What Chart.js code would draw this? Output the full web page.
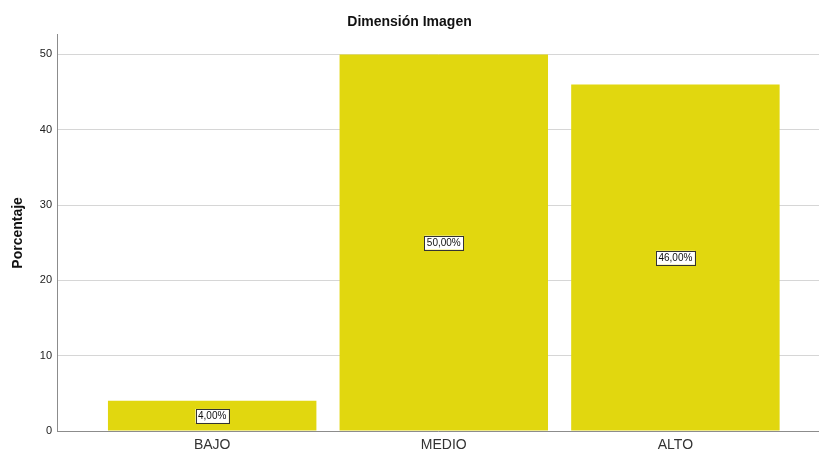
<!DOCTYPE html>
<html>
<head>
<meta charset="utf-8">
<script src="https://cdn.jsdelivr.net/npm/chart.js@4"></script>
<style>
  html, body { margin: 0; padding: 0; background: #fff; }
  #wrap { width: 819px; height: 453px; }
</style>
</head>
<body>
<div id="wrap"><canvas id="myChart"></canvas></div>
<script>
const categories = ['BAJO', 'MEDIO', 'ALTO'];
const percentages = [4, 50, 46];
const pctLabels = ['4,00%', '50,00%', '46,00%'];
const yTicks = [0, 10, 20, 30, 40, 50];

const barColor = '#e1d70f';

// boxed value labels in the middle of each bar
const boxLabels = {
  id: 'boxLabels',
  afterDatasetsDraw(chart) {
    const ctx = chart.ctx;
    const meta = chart.getDatasetMeta(0);
    const y = chart.scales.y;
    ctx.save();
    ctx.font = '10px "Liberation Sans", Arial, sans-serif';
    ctx.textAlign = 'center';
    ctx.textBaseline = 'middle';
    meta.data.forEach((bar, i) => {
      const cy = y.getPixelForValue(percentages[i] / 2);
      const txt = pctLabels[i];
      const w = ctx.measureText(txt).width + 5;
      const h = 14;
      ctx.fillStyle = '#fff';
      ctx.fillRect(bar.x - w / 2, cy - h / 2, w, h);
      ctx.strokeStyle = '#333';
      ctx.lineWidth = 1;
      ctx.strokeRect(Math.round(bar.x - w / 2) + 0.5, Math.round(cy - h / 2) + 0.5, Math.round(w), h);
      ctx.fillStyle = '#111';
      ctx.fillText(txt, bar.x, cy + 0.5);
    });
    ctx.restore();
  },
};

const ctx = document.getElementById('myChart');

new Chart(ctx, {
  type: 'bar',
  plugins: [boxLabels],
  data: {
    datasets: [
      {
        data: percentages.map((v, i) => ({ x: i, y: v })),
        backgroundColor: barColor,
        borderWidth: 0,
        categoryPercentage: 0.9,
        barPercentage: 1,
      },
    ],
  },
  options: {
    responsive: true,
    maintainAspectRatio: false,
    animation: false,
    layout: { padding: 0 },
    plugins: {
      legend: { display: false },
      tooltip: { enabled: false },
      title: {
        display: true,
        text: 'Dimensión Imagen',
        color: '#111',
        font: { family: '"Liberation Sans", Arial, sans-serif', size: 14, weight: 'bold' },
        padding: { top: 14, bottom: 4 },
      },
    },
    scales: {
      x: {
        type: 'linear',
        min: -0.67,
        max: 2.62,
        offset: false,
        afterBuildTicks: (s) => {
          s.ticks = categories.map((c, i) => ({ value: i }));
        },
        afterFit: (s) => { s.height = 22; },
        ticks: {
          callback: (v) => categories[v],
          color: '#333',
          padding: 6,
          autoSkip: false,
          maxRotation: 0,
          font: { family: '"Liberation Sans", Arial, sans-serif', size: 14 },
        },
        grid: { display: false, drawTicks: false },
        border: { display: true, color: '#8c8c8c', width: 1 },
      },
      y: {
        min: 0,
        max: 52.6,
        afterBuildTicks: (s) => {
          s.ticks = yTicks.map((v) => ({ value: v }));
        },
        afterFit: (s) => { s.width = 57; },
        ticks: {
          color: '#222',
          padding: 5,
          font: { family: '"Liberation Sans", Arial, sans-serif', size: 11 },
        },
        grid: { color: '#d6d6d6', lineWidth: 1, drawTicks: false },
        border: { display: true, color: '#8c8c8c', width: 1 },
        title: {
          display: true,
          text: 'Porcentaje',
          color: '#111',
          padding: { top: 10, bottom: 0 },
          font: { family: '"Liberation Sans", Arial, sans-serif', size: 14, weight: 'bold' },
        },
      },
    },
  },
});
</script>
</body>
</html>
